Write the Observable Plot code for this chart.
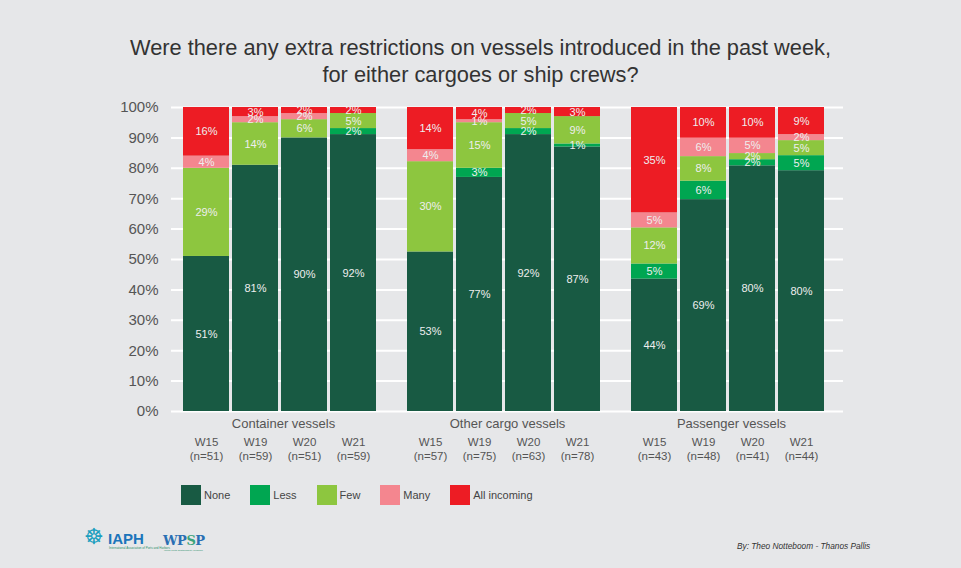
<!DOCTYPE html>
<html>
<head>
<meta charset="utf-8">
<script src="https://cdn.jsdelivr.net/npm/d3@7"></script>
<script src="https://cdn.jsdelivr.net/npm/@observablehq/plot@0.6"></script>
<style>
  html, body { margin: 0; padding: 0; }
  body { background: #e6e7e9; width: 961px; height: 568px; overflow: hidden; position: relative;
         font-family: "Liberation Sans", Arial, Helvetica, sans-serif; }
  #title { position: absolute; top: 34px; left: 0; width: 961px; text-align: center;
           font-size: 21.8px; line-height: 27px; color: #333; }
  #chart { position: absolute; top: 87px; left: 0; }
  #chart svg [aria-label^="y-axis"] text { font-size: 15px; fill: #555; }
  #legend { position: absolute; top: 485px; left: 181px; display: flex; gap: 20px;
            font-size: 11px; color: #444; }
  #legend .item { display: flex; align-items: center; }
  #legend .sw { width: 20px; height: 20px; margin-right: 3px; }
  #byline { position: absolute; top: 541px; left: 737px; font-size: 8.3px; font-style: italic; color: #333; }
  .abs { position: absolute; white-space: nowrap; }
</style>
</head>
<body>
<div id="title">Were there any extra restrictions on vessels introduced in the past week,<br>for either cargoes or ship crews?</div>
<div id="chart"></div>
<div id="legend"></div>
<div class="abs" style="left:84px;top:525px;font-family:'DejaVu Sans';font-size:22px;line-height:24px;color:#1c9fbf">☸</div>
<div class="abs" style="left:108px;top:531px;font-weight:bold;font-size:15px;line-height:15px;color:#1b75bb">IAPH</div>
<div class="abs" style="left:109px;top:547px;font-size:3px;line-height:3px;color:#2a8f6a">International Association of Ports and Harbors</div>
<div class="abs" style="left:163px;top:534px;font-family:'DejaVu Serif';font-weight:bold;font-size:13px;line-height:13px;letter-spacing:-0.5px;color:#2a6fb3">WP<span style="color:#3aa37a">S</span>P</div>
<div class="abs" style="left:164px;top:549px;font-size:2.5px;line-height:3px;color:#2a8f6a">World Ports Sustainability Program</div>
<div id="byline">By: Theo Notteboom - Thanos Pallis</div>
<script>
// ---- data ----
const groups = ["Container vessels", "Other cargo vessels", "Passenger vessels"];
const weeks = ["W15", "W19", "W20", "W21"];
const sampleSizes = [[51, 59, 51, 59], [57, 75, 63, 78], [43, 48, 41, 44]];
const categories = ["None", "Less", "Few", "Many", "All incoming"];
const colors = ["#185a43", "#00a651", "#8dc63f", "#f4868f", "#ed1c24"];
const none        = [[51, 81, 90, 92], [53, 77, 92, 87], [44, 69, 80, 80]];
const less        = [[0, 0, 0, 2],     [0, 3, 2, 1],     [5, 6, 2, 5]];
const few         = [[29, 14, 6, 5],   [30, 15, 5, 9],   [12, 8, 2, 5]];
const many        = [[4, 2, 2, 0],     [4, 1, 0, 0],     [5, 6, 5, 2]];
const allIncoming = [[16, 3, 2, 2],    [14, 4, 2, 3],    [35, 10, 10, 9]];
const yTicks = [0, 0.1, 0.2, 0.3, 0.4, 0.5, 0.6, 0.7, 0.8, 0.9, 1];

const series = [none, less, few, many, allIncoming];
const table = [];
groups.forEach((g, gi) => weeks.forEach((w, wi) => categories.forEach((c, ci) => {
  table.push({group: g, week: w, category: c, value: series[ci][gi][wi]});
})));
const tickTable = [];
groups.forEach((g, gi) => weeks.forEach((w, wi) => tickTable.push({group: g, week: w, n: sampleSizes[gi][wi]})));

const stackOpts = {offset: "normalize", order: categories};

const chart = Plot.plot({
  width: 961,
  height: 384,
  marginTop: 20,
  marginBottom: 60,
  marginLeft: 170,
  marginRight: 118,
  style: {background: "transparent", fontFamily: "'Liberation Sans', Arial, sans-serif", overflow: "visible"},
  fx: {domain: groups, paddingInner: 0, paddingOuter: 0, axis: null, label: null},
  x: {domain: weeks, paddingInner: 0.054, paddingOuter: 0.287, align: 0.386, axis: null, label: null},
  y: {domain: [0, 1], ticks: yTicks, tickFormat: d3.format(".0%"), tickSize: 0, tickPadding: 13, label: null},
  color: {domain: categories, range: colors},
  marks: [
    Plot.ruleY(yTicks, {stroke: "white", strokeWidth: 2}),
    Plot.barY(table, Plot.stackY(stackOpts, {fx: "group", x: "week", y: "value", fill: "category", z: "category"})),
    Plot.text(table.filter(d => d.value > 0), Plot.stackY(stackOpts, {
      fx: "group", x: "week", y: "value", z: "category",
      text: d => d.value + "%", fill: "#eeeeee", fontSize: 11
    })),
    Plot.text(groups, {fx: d => d, frameAnchor: "bottom", dy: 7, lineAnchor: "top",
      text: d => d, fontSize: 13, fill: "#555"}),
    Plot.text(tickTable, {fx: "group", x: "week", frameAnchor: "bottom", dy: 25, lineAnchor: "top",
      text: d => `${d.week}\n(n=${d.n})`, fontSize: 11.5, lineHeight: 1.2, fill: "#555"})
  ]
});
document.getElementById("chart").appendChild(chart);

// legend
const legend = document.getElementById("legend");
categories.forEach((c, i) => {
  const item = document.createElement("div");
  item.className = "item";
  const sw = document.createElement("div");
  sw.className = "sw";
  sw.style.background = colors[i];
  const lab = document.createElement("span");
  lab.textContent = c;
  item.appendChild(sw); item.appendChild(lab);
  legend.appendChild(item);
});
</script>
</body>
</html>
